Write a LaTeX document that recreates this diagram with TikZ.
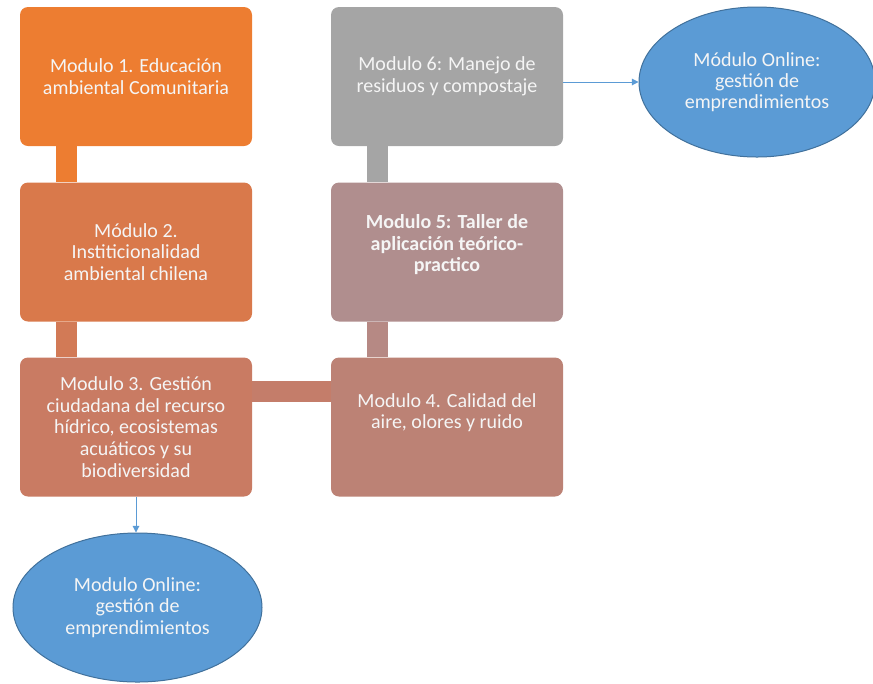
\documentclass[tikz,border=0pt]{standalone}
\usepackage{fontspec}
\setmainfont{Carlito}
\usetikzlibrary{arrows.meta,shapes.geometric,calc}
\definecolor{modA}{HTML}{ED7D31}
\definecolor{modB}{HTML}{D9794B}
\definecolor{modC}{HTML}{C97B63}
\definecolor{modD}{HTML}{BC8275}
\definecolor{modE}{HTML}{B08E8E}
\definecolor{modF}{HTML}{A5A5A5}
\definecolor{linkB}{HTML}{D27A56}
\definecolor{linkC}{HTML}{C47D6A}
\definecolor{linkD}{HTML}{B68984}
\definecolor{onlinefill}{HTML}{5B9BD5}
\definecolor{onlineline}{HTML}{41719C}
\begin{document}
\begin{tikzpicture}
                [x=0.75pt, y=-0.75pt,
                 modulo/.style={rectangle, rounded corners=6pt, minimum width=174pt, minimum height=104.25pt, inner sep=0pt, align=center, text=white!96!black, font=\fontsize{15}{16.2}\selectfont},
                 online/.style={ellipse, draw=onlineline, fill=onlinefill, line width=0.75pt, inner sep=0pt, align=center, text=white!96!black, font=\fontsize{15}{16}\selectfont},
                 link/.style={line width=15.5pt},
                 flecha/.style={draw=onlinefill, line width=0.75pt, -{Triangle[length=5pt,width=5pt]}}]
                \useasboundingbox (0,0) rectangle (873,683);
                % Define modules
                \node[modulo, fill=modA] (m1) at (136,76.5) {Modulo 1. Educación\\ambiental Comunitaria};
                \node[modulo, fill=modB] (m2) at (136,252) {Módulo 2.\\Institicionalidad\\ambiental chilena};
                \node[modulo, fill=modC] (m3) at (136,427) {Modulo 3. Gestión\\ciudadana del recurso\\hídrico, ecosistemas\\acuáticos y su\\biodiversidad};
                \node[modulo, fill=modD] (m4) at (447,427) {Modulo 4. Calidad del\\aire, olores y ruido\\[8pt]~};
                \node[modulo, fill=modE] (m5) at (447,252) {\bfseries Modulo 5: Taller de\\\bfseries aplicación teórico-\\\bfseries practico\\[-3pt]~};
                \node[modulo, fill=modF] (m6) at (447,76.5) {Modulo 6: Manejo de\\residuos y compostaje};
                \node[online, minimum width=177pt, minimum height=112.5pt] (e1) at (757,82) {Módulo Online:\\gestión de\\emprendimientos};
                \node[online, minimum width=186.75pt, minimum height=111.75pt] (e2) at (137.5,607.5) {Modulo Online:\\gestión de\\emprendimientos};
                % Define links
                \draw[link, modA] ($(m1.south west)+(46.5,0)$) -- ($(m2.north west)+(46.5,0)$);
                \draw[link, linkB] ($(m2.south west)+(46.5,0)$) -- ($(m3.north west)+(46.5,0)$);
                \draw[link, linkC] ($(m3.north east)+(0,34)$) -- ($(m4.north west)+(0,34)$);
                \draw[link, linkD] ($(m4.north west)+(47,0)$) -- ($(m5.south west)+(47,0)$);
                \draw[link, modF] ($(m5.north west)+(47,0)$) -- ($(m6.south west)+(47,0)$);
                \draw[flecha] (m6.east |- e1.west) -- (e1.west);
                \draw[flecha] (m3.south) -- (m3.south |- e2.north);
            \end{tikzpicture}
\end{document}
